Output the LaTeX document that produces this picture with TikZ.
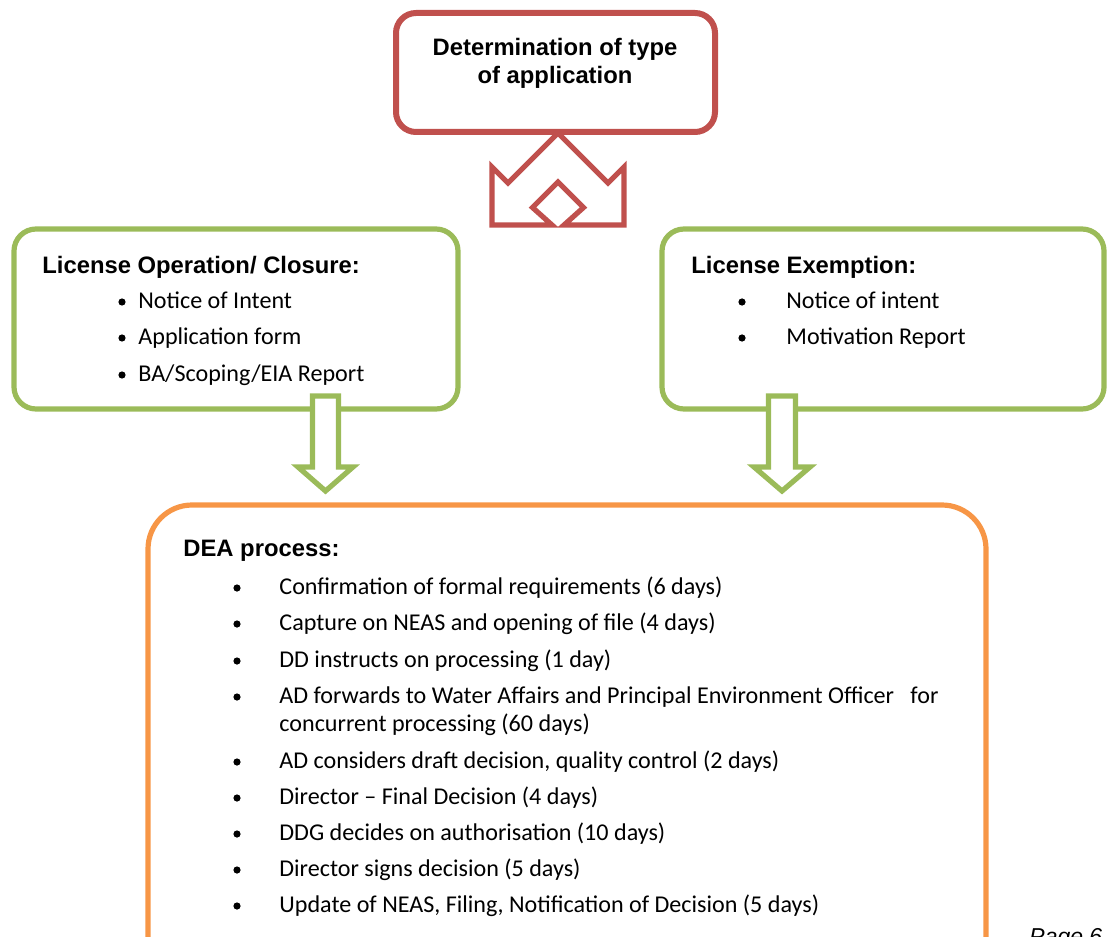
\documentclass[tikz,border=0pt]{standalone}
\usepackage{fontspec}
\setmainfont{Carlito}
\newfontfamily\arialfont{Liberation Sans}
\definecolor{boxred}{HTML}{C0504D}
\definecolor{boxgreen}{HTML}{9BBB59}
\definecolor{boxorange}{HTML}{F79646}

\begin{document}
\begin{tikzpicture}[x=0.5pt,y=-0.5pt,
    head/.style={font=\arialfont\bfseries\fontsize{11.9}{14.5}\selectfont, anchor=base west, inner sep=0},
    item/.style={font=\fontsize{12.05}{14}\selectfont, anchor=base west, inner sep=0},
    dot/.style={circle, fill=black, inner sep=0, minimum size=3.6pt}]
    \useasboundingbox (0,0) rectangle (1107,936);
    \clip (0,0) rectangle (1107,936);
    % split arrow under the top box
    \draw[boxred, line width=2.6pt, fill=white, line join=miter]
      (558,133) -- (508,183) -- (492,167) -- (492,225) -- (552,225) -- (532.5,207.5)
      -- (558,182) -- (583.5,207.5) -- (564,225) -- (624,225) -- (624,167) -- (608,183) -- cycle;
    \draw[boxred, line width=3pt, fill=white, rounded corners=10pt] (396,13) rectangle (715,132);
    \node[head, anchor=base] (title) at (555,56) {Determination of type};
    \node[head, anchor=base] (title2) at (555,84) {of application};
    % the two kinds of licence
    \draw[boxgreen, line width=2.6pt, rounded corners=11pt] (14,229) rectangle (458,409);
    \draw[boxgreen, line width=2.6pt, rounded corners=11pt] (662,229) rectangle (1104,409);
    \node[head] (oper) at (42,273) {License Operation/ Closure:};
    \node[dot] (o1) at (122,302) {};
    \node[item] (oper1) at (138,308) {Notice of Intent};
    \node[dot] (o2) at (122,338) {};
    \node[item] (oper2) at (138,344) {Application form};
    \node[dot] (o3) at (122,375) {};
    \node[item] (oper3) at (138,381) {BA/Scoping/EIA Report};
    \node[head] (exem) at (691,273) {License Exemption:};
    \node[dot] (e1) at (742,302) {};
    \node[item] (exem1) at (786,308) {Notice of intent};
    \node[dot] (e2) at (742,338) {};
    \node[item] (exem2) at (786,344) {Motivation Report};
    % down arrows
    \draw[boxgreen, line width=2.6pt, fill=white, line join=miter]
      (312.5,396) -- (338.5,396) -- (338.5,467) -- (353,467) -- (325.5,491) -- (298,467) -- (312.5,467) -- cycle;
    \draw[boxgreen, line width=2.6pt, fill=white, line join=miter]
      (768.5,396) -- (795.5,396) -- (795.5,467) -- (810,467) -- (782,491) -- (754,467) -- (768.5,467) -- cycle;
    % DEA box
    \draw[boxorange, line width=2.6pt, rounded corners=22pt] (148,505) rectangle (986,980);
    \node[head] (dea) at (183,556) {DEA process:};
    \node[dot] (d1) at (237,588) {};
    \node[item] (dea1) at (279,594) {Confirmation of formal requirements (6 days)};
    \node[dot] (d2) at (237,624) {};
    \node[item] (dea2) at (279,630) {Capture on NEAS and opening of file (4 days)};
    \node[dot] (d3) at (237,661) {};
    \node[item] (dea3) at (279,667) {DD instructs on processing (1 day)};
    \node[dot] (d4) at (237,697) {};
    \node[item] (dea4) at (279,703) {AD forwards to Water Affairs and Principal Environment Officer\ \ \ for};
    \node[item] (dea4b) at (279,731) {concurrent processing (60 days)};
    \node[dot] (d5) at (237,762) {};
    \node[item] (dea5) at (279,768) {AD considers draft decision, quality control (2 days)};
    \node[dot] (d6) at (237,798) {};
    \node[item] (dea6) at (279,804) {Director -- Final Decision (4 days)};
    \node[dot] (d7) at (237,834) {};
    \node[item] (dea7) at (279,840) {DDG decides on authorisation (10 days)};
    \node[dot] (d8) at (237,870) {};
    \node[item] (dea8) at (279,876) {Director signs decision (5 days)};
    \node[dot] (d9) at (237,906) {};
    \node[item] (dea9) at (279,912) {Update of NEAS, Filing, Notification of Decision (5 days)};
    \node[anchor=base west, inner sep=0, font=\arialfont\itshape\fontsize{11.5}{14}\selectfont] (page) at (1029,944) {Page 6};
\end{tikzpicture}
\end{document}
